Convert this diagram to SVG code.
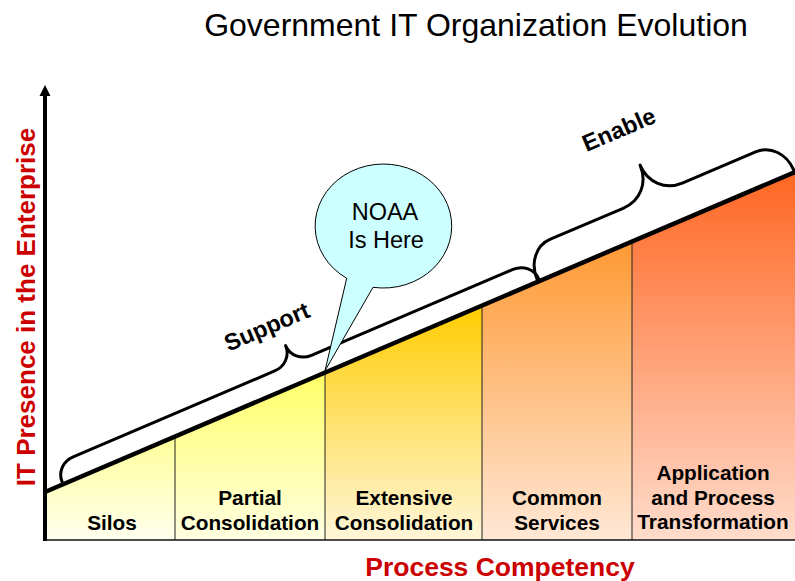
<svg xmlns="http://www.w3.org/2000/svg" width="795" height="581" viewBox="0 0 795 581">
<style>
.lbl{font-family:"Liberation Sans",Arial,sans-serif;font-weight:bold;font-size:20.8px;fill:#000;text-anchor:middle}
.axl{font-family:"Liberation Sans",Arial,sans-serif;font-weight:bold;font-size:26px;fill:#CC0000;text-anchor:middle}
.brl{font-family:"Liberation Sans",Arial,sans-serif;font-weight:bold;font-size:23.5px;fill:#000;text-anchor:middle}
.cal{font-family:"Liberation Sans",Arial,sans-serif;font-size:23.5px;fill:#000;text-anchor:middle}
.div{stroke:#222;stroke-width:1;fill:none}
.brace{fill:none;stroke:#000;stroke-width:3;stroke-linecap:round;stroke-linejoin:round}
</style>
<defs>
<linearGradient id="g1" x1="0" y1="0" x2="0" y2="1"><stop offset="0" stop-color="#FFFF99"/><stop offset="1" stop-color="#FFFFEE"/></linearGradient>
<linearGradient id="g2" x1="0" y1="0" x2="0" y2="1"><stop offset="0" stop-color="#FFFF66"/><stop offset="1" stop-color="#FFFFE2"/></linearGradient>
<linearGradient id="g3" x1="0" y1="0" x2="0" y2="1"><stop offset="0" stop-color="#FFCC00"/><stop offset="1" stop-color="#FFF6DA"/></linearGradient>
<linearGradient id="g4" x1="0" y1="0" x2="0" y2="1"><stop offset="0" stop-color="#FF9933"/><stop offset="1" stop-color="#FFE8D6"/></linearGradient>
<linearGradient id="g5" x1="0" y1="0" x2="0" y2="1"><stop offset="0" stop-color="#FF6622"/><stop offset="1" stop-color="#FFDCCC"/></linearGradient>
</defs>
<text x="476" y="36" style="font-family:'Liberation Sans',Arial,sans-serif;font-size:32px;fill:#000;text-anchor:middle">Government IT Organization Evolution</text>

<g id="silos">
<polygon points="45,491.6 175,436.2 175,540 45,540" fill="url(#g1)"/>
<text class="lbl" x="112" y="530">Silos</text>
</g>
<g id="partial-consolidation">
<polygon points="175,436.2 325,372.3 325,540 175,540" fill="url(#g2)"/>
<text class="lbl" x="250" y="505">Partial</text>
<text class="lbl" x="250" y="530">Consolidation</text>
</g>
<g id="extensive-consolidation">
<polygon points="325,372.3 482,305.4 482,540 325,540" fill="url(#g3)"/>
<text class="lbl" x="404" y="505">Extensive</text>
<text class="lbl" x="404" y="530">Consolidation</text>
</g>
<g id="common-services">
<polygon points="482,305.4 632,241.5 632,540 482,540" fill="url(#g4)"/>
<text class="lbl" x="557" y="505">Common</text>
<text class="lbl" x="557" y="530">Services</text>
</g>
<g id="application-process-transformation">
<polygon points="632,241.5 795,172 795,540 632,540" fill="url(#g5)"/>
<text class="lbl" x="713" y="480">Application</text>
<text class="lbl" x="713" y="505">and Process</text>
<text class="lbl" x="713" y="529">Transformation</text>
</g>

<g id="connectors">
<line class="div" x1="175" y1="436.2" x2="175" y2="540"/>
<line class="div" x1="325" y1="372.3" x2="325" y2="540"/>
<line class="div" x1="482" y1="305.4" x2="482" y2="540"/>
<line class="div" x1="632" y1="241.5" x2="632" y2="540"/>
<line x1="45" y1="540" x2="795" y2="540" stroke="#111" stroke-width="1.5"/>
<line x1="45" y1="492" x2="795" y2="172" stroke="#000" stroke-width="4.5"/>
<line x1="45" y1="541" x2="45" y2="94" stroke="#000" stroke-width="4"/>
<polygon points="45,85 39.5,96 50.5,96" fill="#000"/>
</g>

<g id="support-brace">
<path class="brace" transform="translate(63,484) rotate(-23.08)" d="M0,-2 C0,-13 9,-21 20,-21 L239,-21 C250,-21 259,-29 259,-40 C259,-29 268,-21 279,-21 L498,-21 C509,-21 518,-13 518,-2"/>
<text class="brl" transform="translate(270,334) rotate(-23.08)">Support</text>
</g>
<g id="enable-brace">
<path class="brace" transform="translate(538,281.5) rotate(-23.08)" d="M0,-2 C0,-20 12,-34 28,-34 L107,-34 C126,-34 139.5,-48 139.5,-67 C139.5,-48 153,-34 172,-34 L251,-34 C267,-34 279,-20 279,-2"/>
<text class="brl" transform="translate(622,137) rotate(-23.08)">Enable</text>
</g>

<g id="noaa-callout">
<path d="M373,287.3 A68.3,62 0 1 0 346.7,278.3 L325,370.7 Z" fill="#CCFFFF" stroke="#000" stroke-width="1"/>
<text class="cal" x="385" y="220">NOAA</text>
<text class="cal" x="386" y="248">Is Here</text>
</g>

<g id="axis-labels">
<text class="axl" transform="translate(35,307) rotate(-90)">IT Presence in the Enterprise</text>
<text class="axl" x="500" y="576" style="font-size:26.5px">Process Competency</text>
</g>
</svg>
